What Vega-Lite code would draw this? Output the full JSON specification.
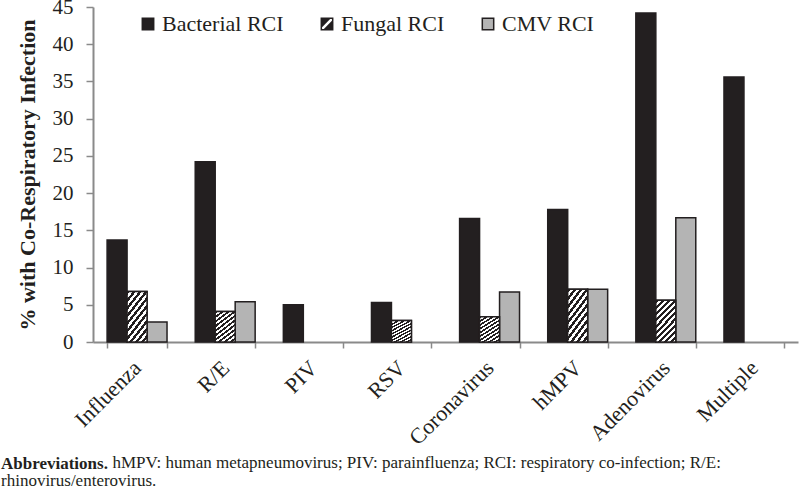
{
  "$schema": "https://vega.github.io/schema/vega-lite/v6.json",
  "width": 705,
  "height": 335,
  "autosize": {"type": "none"},
  "padding": {"left": 93, "top": 7, "right": 2, "bottom": 146},
  "background": "white",
  "config": {"view": {"stroke": null}, "font": "Liberation Serif"},
  "title": {
    "text": "Abbreviations.",
    "subtitle": "rhinovirus/enterovirus.",
    "orient": "top",
    "anchor": "start",
    "frame": "group",
    "font": "Liberation Serif",
    "fontSize": 17,
    "fontWeight": "bold",
    "color": "#231f20",
    "subtitleFont": "Liberation Serif",
    "subtitleFontSize": 17,
    "subtitleColor": "#231f20",
    "subtitlePadding": 0,
    "dx": -92,
    "dy": 498
  },
  "data": {
    "values": [
      {"virus": "Influenza", "type": "Bacterial RCI", "pct": 13.7},
      {"virus": "Influenza", "type": "Fungal RCI", "pct": 6.8},
      {"virus": "Influenza", "type": "CMV RCI", "pct": 2.7},
      {"virus": "R/E", "type": "Bacterial RCI", "pct": 24.2},
      {"virus": "R/E", "type": "Fungal RCI", "pct": 4.1},
      {"virus": "R/E", "type": "CMV RCI", "pct": 5.4},
      {"virus": "PIV", "type": "Bacterial RCI", "pct": 5.0},
      {"virus": "RSV", "type": "Bacterial RCI", "pct": 5.3},
      {"virus": "RSV", "type": "Fungal RCI", "pct": 2.9},
      {"virus": "Coronavirus", "type": "Bacterial RCI", "pct": 16.6},
      {"virus": "Coronavirus", "type": "Fungal RCI", "pct": 3.4},
      {"virus": "Coronavirus", "type": "CMV RCI", "pct": 6.7},
      {"virus": "hMPV", "type": "Bacterial RCI", "pct": 17.8},
      {"virus": "hMPV", "type": "Fungal RCI", "pct": 7.1},
      {"virus": "hMPV", "type": "CMV RCI", "pct": 7.1},
      {"virus": "Adenovirus", "type": "Bacterial RCI", "pct": 44.2},
      {"virus": "Adenovirus", "type": "Fungal RCI", "pct": 5.6},
      {"virus": "Adenovirus", "type": "CMV RCI", "pct": 16.7},
      {"virus": "Multiple", "type": "Bacterial RCI", "pct": 35.6}
    ]
  },
  "encoding": {
    "x": {
      "field": "virus",
      "type": "nominal",
      "sort": ["Influenza", "R/E", "PIV", "RSV", "Coronavirus", "hMPV", "Adenovirus", "Multiple"],
      "scale": {"paddingInner": 0.32, "paddingOuter": 0.16},
      "axis": {
        "title": "hMPV: human metapneumovirus; PIV: parainfluenza; RCI: respiratory co-infection; R/E:",
        "titleFont": "Liberation Serif",
        "titleFontSize": 17,
        "titleFontWeight": "normal",
        "titleColor": "#231f20",
        "titleAlign": "left",
        "titleAnchor": "start",
        "titleBaseline": "alphabetic",
        "titleX": 19,
        "titleY": 125,
        "labelAngle": -45,
        "labelAlign": "right",
        "labelBaseline": "middle",
        "labelPadding": 16,
        "labelFont": "Liberation Serif",
        "labelFontSize": 22,
        "labelColor": "#231f20",
        "domainColor": "#8a8a8a",
        "domainWidth": 2,
        "tickColor": "#8a8a8a",
        "tickWidth": 1.5,
        "tickSize": 6,
        "tickBand": "extent",
        "grid": false
      }
    },
    "xOffset": {
      "field": "type",
      "type": "nominal",
      "scale": {"domain": ["Bacterial RCI", "Fungal RCI", "CMV RCI"], "paddingInner": 0, "paddingOuter": 0}
    },
    "y": {
      "field": "pct",
      "type": "quantitative",
      "scale": {"domain": [0, 45], "nice": false},
      "axis": {
        "title": "% with Co-Respiratory Infection",
        "titleFont": "Liberation Serif",
        "titleFontSize": 22,
        "titleFontWeight": "bold",
        "titleColor": "#231f20",
        "titlePadding": 13,
        "values": [0, 5, 10, 15, 20, 25, 30, 35, 40, 45],
        "labelFont": "Liberation Serif",
        "labelFontSize": 21,
        "labelColor": "#231f20",
        "labelPadding": 13,
        "domainColor": "#8a8a8a",
        "domainWidth": 2,
        "tickColor": "#8a8a8a",
        "tickWidth": 1.5,
        "tickSize": 7,
        "grid": false
      }
    }
  },
  "layer": [
    {
      "mark": {"type": "bar", "stroke": "#231f20", "strokeWidth": 1.5, "opacity": 1},
      "encoding": {
        "color": {
          "field": "type",
          "type": "nominal",
          "scale": {
            "domain": ["Bacterial RCI", "Fungal RCI", "CMV RCI"],
            "range": ["#231f20", "#231f20", "#b4b4b4"]
          },
          "legend": {
            "title": null,
            "orient": "none",
            "direction": "horizontal",
            "legendX": 44,
            "legendY": 6,
            "symbolType": "square",
            "symbolSize": 130,
            "symbolStrokeColor": "#231f20",
            "symbolStrokeWidth": 1.5,
            "symbolOpacity": 1,
            "labelFont": "Liberation Serif",
            "labelFontSize": 22,
            "labelColor": "#231f20",
            "labelOffset": 3,
            "columnPadding": 32,
            "encode": {
              "symbols": {
                "update": {
                  "stroke": {"value": "#231f20"},
                  "strokeWidth": {"value": 1.5},
                  "shape": [
                    {
                      "test": "datum.value === 'Fungal RCI'",
                      "value": "M-1,-1L1,-1L1,1L-1,1ZM-1,1L-0.5,1L1,-0.5L1,-1L0.5,-1L-1,0.5Z"
                    },
                    {"value": "square"}
                  ]
                }
              }
            }
          }
        }
      }
    },
    {
      "transform": [{"filter": "datum.type === 'Fungal RCI'"}],
      "mark": {
        "type": "bar",
        "stroke": "#231f20",
        "strokeWidth": 1.5,
        "fill": {
          "gradient": "linear",
          "x1": 0, "y1": 0, "x2": 0.6, "y2": 1.2,
          "stops": [
            {"offset": 0, "color": "#231f20"}, {"offset": 0.05, "color": "#231f20"},
            {"offset": 0.05, "color": "#ffffff"}, {"offset": 0.1, "color": "#ffffff"},
            {"offset": 0.1, "color": "#231f20"}, {"offset": 0.15, "color": "#231f20"},
            {"offset": 0.15, "color": "#ffffff"}, {"offset": 0.2, "color": "#ffffff"},
            {"offset": 0.2, "color": "#231f20"}, {"offset": 0.25, "color": "#231f20"},
            {"offset": 0.25, "color": "#ffffff"}, {"offset": 0.3, "color": "#ffffff"},
            {"offset": 0.3, "color": "#231f20"}, {"offset": 0.35, "color": "#231f20"},
            {"offset": 0.35, "color": "#ffffff"}, {"offset": 0.4, "color": "#ffffff"},
            {"offset": 0.4, "color": "#231f20"}, {"offset": 0.45, "color": "#231f20"},
            {"offset": 0.45, "color": "#ffffff"}, {"offset": 0.5, "color": "#ffffff"},
            {"offset": 0.5, "color": "#231f20"}, {"offset": 0.55, "color": "#231f20"},
            {"offset": 0.55, "color": "#ffffff"}, {"offset": 0.6, "color": "#ffffff"},
            {"offset": 0.6, "color": "#231f20"}, {"offset": 0.65, "color": "#231f20"},
            {"offset": 0.65, "color": "#ffffff"}, {"offset": 0.7, "color": "#ffffff"},
            {"offset": 0.7, "color": "#231f20"}, {"offset": 0.75, "color": "#231f20"},
            {"offset": 0.75, "color": "#ffffff"}, {"offset": 0.8, "color": "#ffffff"},
            {"offset": 0.8, "color": "#231f20"}, {"offset": 0.85, "color": "#231f20"},
            {"offset": 0.85, "color": "#ffffff"}, {"offset": 0.9, "color": "#ffffff"},
            {"offset": 0.9, "color": "#231f20"}, {"offset": 0.95, "color": "#231f20"},
            {"offset": 0.95, "color": "#ffffff"}, {"offset": 1, "color": "#ffffff"}
          ]
        }
      }
    }
  ]
}
